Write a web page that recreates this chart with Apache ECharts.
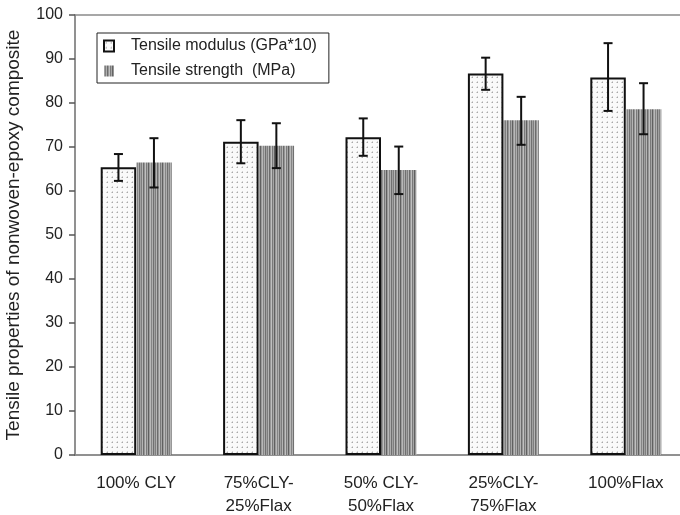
<!DOCTYPE html>
<html>
<head>
<meta charset="utf-8">
<script src="https://cdn.jsdelivr.net/npm/echarts@6/dist/echarts.min.js"></script>
<style>
  html, body { margin: 0; padding: 0; background: #fff; }
  #chart { width: 680px; height: 515px; }
</style>
</head>
<body>
<div id="chart"></div>
<script>
const categories = ['100% CLY', '75%CLY-\n25%Flax', '50% CLY-\n50%Flax', '25%CLY-\n75%Flax', '100%Flax']
const modulus = [65.4, 71.2, 72.2, 86.7, 85.8]
const modulusLow = [62.3, 66.3, 68.0, 83.0, 78.2]
const modulusHigh = [68.4, 76.1, 76.5, 90.3, 93.6]
const strength = [66.5, 70.3, 64.8, 76.1, 78.6]
const strengthLow = [60.8, 65.2, 59.3, 70.5, 72.9]
const strengthHigh = [72.0, 75.4, 70.1, 81.4, 84.5]
const yTicks = [0, 10, 20, 30, 40, 50, 60, 70, 80, 90, 100]

const BAR_W = 35.5
const font = '"Liberation Sans", Arial, sans-serif'

// dotted fill for the modulus bars
const makeDots = () => {
  const c = document.createElement('canvas')
  c.width = 5
  c.height = 5
  const ctx = c.getContext('2d')
  ctx.fillStyle = '#fafafa'
  ctx.fillRect(0, 0, 5, 5)
  ctx.fillStyle = '#a8a8a8'
  ctx.fillRect(2, 2, 1, 1)
  ctx.fillStyle = '#d4d4d4'
  ctx.fillRect(1, 2, 1, 1)
  ctx.fillRect(2, 1, 1, 1)
  return c
}

// vertical stripes for the strength bars
const makeStripes = () => {
  const greys = ['#a0a0a0', '#7e7e7e', '#b4b4b4', '#6c6c6c', '#969696', '#c0c0c0',
                 '#7a7a7a', '#a6a6a6', '#606060', '#9a9a9a', '#b8b8b8', '#858585',
                 '#aeaeae', '#707070']
  const c = document.createElement('canvas')
  c.width = greys.length
  c.height = 4
  const ctx = c.getContext('2d')
  greys.forEach((g, i) => {
    ctx.fillStyle = g
    ctx.fillRect(i, 0, 1, 4)
  })
  return c
}

const errData = (low, high) => low.map((l, i) => [i, l, high[i]])

const errorSeries = (low, high, offset) => ({
  type: 'custom',
  z: 10,
  silent: true,
  data: errData(low, high),
  renderItem: (params, api) => {
    const a = api.coord([api.value(0), api.value(1)])
    const b = api.coord([api.value(0), api.value(2)])
    const x = a[0] + offset
    const cap = 4.5
    const style = { stroke: '#111', lineWidth: 2 }
    return {
      type: 'group',
      children: [
        { type: 'line', shape: { x1: x, y1: a[1], x2: x, y2: b[1] }, style },
        { type: 'line', shape: { x1: x - cap, y1: a[1], x2: x + cap, y2: a[1] }, style },
        { type: 'line', shape: { x1: x - cap, y1: b[1], x2: x + cap, y2: b[1] }, style }
      ]
    }
  }
})

const chart = echarts.init(document.getElementById('chart'))
chart.setOption({
  animation: false,
  grid: {
    left: 75, top: 15, width: 612, height: 440,
    outerBoundsMode: 'none',
    show: true, borderColor: '#8a8a8a', borderWidth: 1.5, backgroundColor: 'transparent'
  },
  legend: {
    orient: 'vertical',
    left: 97, top: 33,
    padding: [5, 12, 4, 6],
    borderColor: '#222', borderWidth: 1,
    itemWidth: 10, itemHeight: 11, itemGap: 9,
    icon: 'rect',
    textStyle: { fontFamily: font, fontSize: 16, color: '#222', padding: [0, 0, 0, 12] },
    data: ['Tensile modulus (GPa*10)', 'Tensile strength  (MPa)']
  },
  xAxis: {
    type: 'category',
    data: categories,
    axisLine: { lineStyle: { color: '#8a8a8a', width: 1.5 } },
    axisTick: { length: 6, lineStyle: { color: '#555', width: 1.5 } },
    axisLabel: { fontFamily: font, fontSize: 17, color: '#222', margin: 17, lineHeight: 23 }
  },
  yAxis: {
    type: 'value',
    min: yTicks[0], max: yTicks[yTicks.length - 1], interval: 10,
    name: 'Tensile properties of nonwoven-epoxy composite',
    nameLocation: 'middle', nameGap: 52,
    nameTextStyle: { fontFamily: font, fontSize: 19, color: '#222' },
    splitLine: { show: false },
    axisLine: { show: true, lineStyle: { color: '#8a8a8a', width: 1.5 } },
    axisTick: { show: true, length: 6, lineStyle: { color: '#555', width: 1.5 } },
    axisLabel: { fontFamily: font, fontSize: 16, color: '#222', margin: 12 }
  },
  series: [
    {
      name: 'Tensile modulus (GPa*10)',
      type: 'bar',
      data: modulus,
      barWidth: BAR_W,
      barGap: '0%',
      itemStyle: {
        color: { image: makeDots(), repeat: 'repeat' },
        borderColor: '#111', borderWidth: 2
      }
    },
    {
      name: 'Tensile strength  (MPa)',
      type: 'bar',
      data: strength,
      barWidth: BAR_W,
      barGap: '0%',
      itemStyle: { color: { image: makeStripes(), repeat: 'repeat' } }
    },
    errorSeries(modulusLow, modulusHigh, -BAR_W / 2),
    errorSeries(strengthLow, strengthHigh, BAR_W / 2)
  ]
})
</script>
</body>
</html>
